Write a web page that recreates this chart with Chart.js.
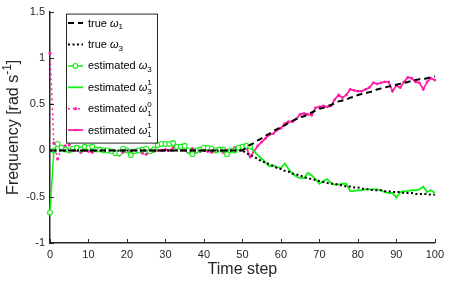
<!DOCTYPE html>
<html><head><meta charset="utf-8">
<script src="https://cdn.jsdelivr.net/npm/chart.js@4/dist/chart.umd.min.js"></script>
<style>html,body{margin:0;padding:0;background:#fff;}canvas{display:block;}</style>
</head><body>
<canvas id="c" width="449" height="282"></canvas>
<script>
const N = null;
const timeSteps = [0,1,2,3,4,5,6,7,8,9,10,11,12,13,14,15,16,17,18,19,20,21,22,23,24,25,26,27,28,29,30,31,32,33,34,35,36,37,38,39,40,41,42,43,44,45,46,47,48,49,50,51,52,53,54,55,56,57,58,59,60,61,62,63,64,65,66,67,68,69,70,71,72,73,74,75,76,77,78,79,80,81,82,83,84,85,86,87,88,89,90,91,92,93,94,95,96,97,98,99,100];
const xTicks = [0,10,20,30,40,50,60,70,80,90,100];
const yTicks = [-1,-0.5,0,0.5,1,1.5];
const yTickLabels = ['-1','-0.5','0','0.5','1','1.5'];

const trueW1 = [0,0,0,0,0,0,0,0,0,0, 0,0,0,0,0,0,0,0,0,0, 0,0,0,0,0,0,0,0,0,0, 0,0,0,0,0,0,0,0,0,0, 0,0,0,0,0,0,0,0,0,0, 0,
 0.03,0.06,0.08,0.11,0.13,0.16,0.18,0.21,0.23,0.25,
 0.27,0.30,0.32,0.34,0.36,0.37,0.39,0.41,0.43,0.45,
 0.46,0.48,0.49,0.51,0.53,0.54,0.55,0.57,0.58,0.60,
 0.61,0.62,0.63,0.64,0.66,0.67,0.68,0.69,0.70,0.71,
 0.72,0.73,0.74,0.75,0.76,0.77,0.77,0.78,0.79,0.80];
const trueW3 = [0,0,0,0,0,0,0,0,0,0, 0,0,0,0,0,0,0,0,0,0, 0,0,0,0,0,0,0,0,0,0, 0,0,0,0,0,0,0,0,0,0, 0,0,0,0,0,0,0,0,0,0, 0,
 -0.03,-0.05,-0.07,-0.09,-0.12,-0.13,-0.15,-0.17,-0.19,-0.20,
 -0.22,-0.23,-0.25,-0.26,-0.27,-0.29,-0.30,-0.31,-0.32,-0.33,
 -0.34,-0.35,-0.36,-0.36,-0.37,-0.38,-0.39,-0.39,-0.40,-0.40,
 -0.41,-0.42,-0.42,-0.43,-0.43,-0.43,-0.44,-0.44,-0.45,-0.45,
 -0.45,-0.46,-0.46,-0.46,-0.47,-0.47,-0.47,-0.47,-0.48,-0.48];
const estW3 = [-0.67,0.00,0.07,0.03,0.01,0.00,0.02,0.03,0.01,0.04,
 0.03,0.04,0.01,0.01,0.00,0.00,-0.01,-0.03,-0.03,0.02,
 0.00,-0.05,-0.01,0.00,0.01,0.02,-0.01,0.01,0.06,0.07,
 0.07,0.07,0.08,0.04,0.04,0.05,0.00,-0.04,0.00,0.01,
 0.03,0.03,0.02,0.00,0.01,0.01,-0.04,0.00,0.00,0.03,
 0.04,0.05,0.04,
 N,N,N,N,N,N,N,N,N,N, N,N,N,N,N,N,N,N,N,N, N,N,N,N,N,N,N,N,N,N, N,N,N,N,N,N,N,N,N,N, N,N,N,N,N,N,N,N];
const estW3b = [N,N,N,N,N,N,N,N,N,N, N,N,N,N,N,N,N,N,N,N, N,N,N,N,N,N,N,N,N,N, N,N,N,N,N,N,N,N,N,N, N,N,N,N,N,N,N,N,N,N, N,
 0.05,0.04,-0.01,-0.05,-0.09,-0.13,-0.17,-0.16,-0.18,-0.19,
 -0.14,-0.20,-0.25,-0.28,-0.30,-0.30,-0.24,-0.27,-0.31,-0.36,
 -0.33,-0.31,-0.35,-0.37,-0.37,-0.36,-0.36,-0.44,-0.44,-0.43,
 -0.43,-0.42,-0.42,-0.42,-0.42,-0.43,-0.45,-0.46,-0.46,-0.51,
 -0.45,-0.44,-0.44,-0.43,-0.43,-0.42,-0.39,-0.45,-0.43,-0.46];
const estW1a = [1.05,0.08,-0.09,0.03,0.05,0.06,0.02,0.00,-0.02,0.00,
 -0.01,-0.02,0.00,0.01,0.00,-0.01,-0.02,-0.04,-0.05,-0.02,
 -0.01,-0.01,-0.02,0.00,-0.03,-0.04,-0.02,-0.01,0.00,0.00,
 0.01,0.00,0.03,0.04,0.03,0.00,-0.02,0.02,-0.02,-0.01,
 0.00,-0.01,-0.02,-0.01,0.00,-0.02,0.00,0.01,0.03,0.03,
 0.03,0.03,
 N,N,N,N,N,N,N,N,N,N, N,N,N,N,N,N,N,N,N,N, N,N,N,N,N,N,N,N,N,N, N,N,N,N,N,N,N,N,N,N, N,N,N,N,N,N,N,N,N];
const estW1b = [N,N,N,N,N,N,N,N,N,N, N,N,N,N,N,N,N,N,N,N, N,N,N,N,N,N,N,N,N,N, N,N,N,N,N,N,N,N,N,N, N,N,N,N,N,N,N,N,N,N, N,
 0.03,-0.07,-0.01,0.05,0.09,0.13,0.17,0.18,0.22,0.24,
 0.29,0.31,0.31,0.34,0.39,0.40,0.39,0.38,0.46,0.47,
 0.48,0.47,0.48,0.55,0.60,0.57,0.60,0.66,0.65,0.64,
 0.64,0.66,0.68,0.73,0.72,0.73,0.74,0.74,0.64,0.70,
 0.68,0.74,0.79,0.78,0.74,0.73,0.66,0.74,0.78,0.76];

const GREEN = 'rgb(20,240,20)';
const PINK = 'rgb(255,30,165)';
const AXC = '#262626';
const FONT = '"Liberation Sans", Arial, Helvetica, sans-serif';

function pts(arr){ return timeSteps.map((t,i)=>({x:t,y:arr[i]})).filter(p=>p.y!==null); }

const legendParts = [
  [['true ','n'],['ω','i'],['1','sub']],
  [['true ','n'],['ω','i'],['3','sub']],
  [['estimated ','n'],['ω','i'],['3','sub']],
  [['estimated ','n'],['ω','i'],['3|1','subsup']],
  [['estimated ','n'],['ω','i'],['1|0','subsup']],
  [['estimated ','n'],['ω','i'],['1|1','subsup']]
];

function drawRich(ctx, x, y, parts, size, measureOnly){
  let cx = x;
  const small = Math.round(size*0.72);
  for (const [t, s] of parts){
    if (s==='n' || s==='i'){
      ctx.font = (s==='i'?'italic ':'') + size + 'px ' + FONT;
      if(!measureOnly) ctx.fillText(t, cx, y);
      cx += ctx.measureText(t).width;
    } else if (s==='sub' || s==='sup'){
      ctx.font = small + 'px ' + FONT;
      if(!measureOnly) ctx.fillText(t, cx, y + (s==='sub'? size*0.33 : -size*0.38));
      cx += ctx.measureText(t).width;
    } else if (s==='subsup'){
      const [a,b] = t.split('|');
      ctx.font = small + 'px ' + FONT;
      if(!measureOnly){
        ctx.fillText(a, cx, y + size*0.38);
        ctx.fillText(b, cx, y - size*0.42);
      }
      cx += Math.max(ctx.measureText(a).width, ctx.measureText(b).width);
    }
  }
  return cx - x;
}

const decor = {
  id:'decor',
  afterDraw(chart){
    const ctx = chart.ctx;
    const ca = chart.chartArea;
    const xs = chart.scales.x, ys = chart.scales.y;
    ctx.save();
    ctx.strokeStyle = AXC; ctx.lineWidth = 1; ctx.setLineDash([]);
    ctx.beginPath();
    xs.ticks.forEach(t=>{ const p = Math.round(xs.getPixelForValue(t.value))+0.5; ctx.moveTo(p, ca.bottom); ctx.lineTo(p, ca.bottom-4); });
    ys.ticks.forEach(t=>{ const p = Math.round(ys.getPixelForValue(t.value))+0.5; ctx.moveTo(ca.left, p); ctx.lineTo(ca.left+4, p); });
    ctx.stroke();

    const lx = ca.left + 16, ly = ca.top + 2, lw = 91, lh = 129;
    ctx.fillStyle = '#fff';
    ctx.fillRect(lx, ly, lw, lh);
    ctx.strokeStyle = AXC; ctx.lineWidth = 1;
    ctx.strokeRect(lx+0.5, ly+0.5, lw, lh);
    chart.data.datasets.forEach((ds, k)=>{
      const y = ly + 9.5 + k*21.4;
      const x0 = lx + 2, x1 = lx + 17;
      ctx.strokeStyle = ds.borderColor;
      ctx.lineWidth = ds.borderWidth;
      ctx.setLineDash(ds.borderDash || []);
      ctx.beginPath(); ctx.moveTo(x0, y); ctx.lineTo(x1, y); ctx.stroke();
      ctx.setLineDash([]);
      if (ds.pointRadius > 0){
        ctx.beginPath();
        ctx.arc((x0+x1)/2, y, ds.pointRadius, 0, Math.PI*2);
        ctx.fillStyle = ds.pointBackgroundColor; ctx.fill();
        if (ds.pointBorderWidth > 0){ ctx.lineWidth = ds.pointBorderWidth; ctx.strokeStyle = ds.pointBorderColor; ctx.stroke(); }
      }
      ctx.fillStyle = '#000';
      ctx.textBaseline = 'middle'; ctx.textAlign = 'left';
      drawRich(ctx, lx + 22, y + 0.5, legendParts[k], 11);
    });

    ctx.fillStyle = AXC;
    ctx.textBaseline = 'middle'; ctx.textAlign = 'left';
    const xt = [['Time step','n']];
    const wx = drawRich(ctx, 0, 0, xt, 16, true);
    drawRich(ctx, (ca.left+ca.right)/2 - wx/2, 270, xt, 16);
    const yt = [['Frequency [rad s','n'],['-1','sup'],[']','n']];
    const wy = drawRich(ctx, 0, 0, yt, 16, true);
    ctx.translate(14, (ca.top+ca.bottom)/2);
    ctx.rotate(-Math.PI/2);
    drawRich(ctx, -wy/2, 0, yt, 16);
    ctx.restore();
  }
};

Chart.defaults.font.family = FONT;
new Chart(document.getElementById('c'), {
  type:'line',
  data:{ datasets:[
    {label:'true ω1', data:pts(trueW1), borderColor:'#000', borderWidth:2, borderDash:[6,4], pointRadius:0, order:1},
    {label:'true ω3', data:pts(trueW3), borderColor:'#000', borderWidth:2, borderDash:[2,2.5], pointRadius:0, order:2},
    {label:'estimated ω3', data:pts(estW3), borderColor:GREEN, borderWidth:1.5, pointRadius:2.4, pointBorderWidth:1.1, pointBorderColor:GREEN, pointBackgroundColor:'#fff', order:3},
    {label:'estimated ω3^1', data:pts(estW3b), borderColor:GREEN, borderWidth:1.8, pointRadius:0, order:4},
    {label:'estimated ω1^0', data:pts(estW1a), borderColor:PINK, borderWidth:1.5, borderDash:[2,3], pointRadius:1.6, pointBorderWidth:0, pointBorderColor:PINK, pointBackgroundColor:PINK, order:5},
    {label:'estimated ω1^1', data:pts(estW1b), borderColor:PINK, borderWidth:1.8, pointRadius:1.4, pointBorderWidth:0, pointBorderColor:PINK, pointBackgroundColor:PINK, order:6}
  ]},
  options:{
    responsive:false, animation:false, devicePixelRatio:1, events:[],
    layout:{padding:{left:0,right:11,top:5,bottom:0}},
    elements:{line:{tension:0, fill:false}},
    datasets:{line:{clip:false, spanGaps:false}},
    plugins:{legend:{display:false}, tooltip:{enabled:false}},
    scales:{
      x:{type:'linear', min:0, max:100,
         afterBuildTicks(s){ s.ticks = xTicks.map(v=>({value:v})); },
         afterFit(s){ s.height = 39; },
         grid:{display:false, drawTicks:false},
         border:{display:true, color:AXC, width:1.5},
         ticks:{color:AXC, font:{size:11}, padding:5, maxRotation:0, autoSkip:false, callback:(v)=>String(v)}},
      y:{type:'linear', min:-1, max:1.5,
         afterBuildTicks(s){ s.ticks = yTicks.map(v=>({value:v})); },
         afterFit(s){ s.width = 50; },
         grid:{display:false, drawTicks:false},
         border:{display:true, color:AXC, width:1.5},
         ticks:{color:AXC, font:{size:11}, padding:5, callback:(v)=>yTickLabels[yTicks.indexOf(v)] ?? String(v)}}
    }
  },
  plugins:[decor]
});
</script>
</body></html>
